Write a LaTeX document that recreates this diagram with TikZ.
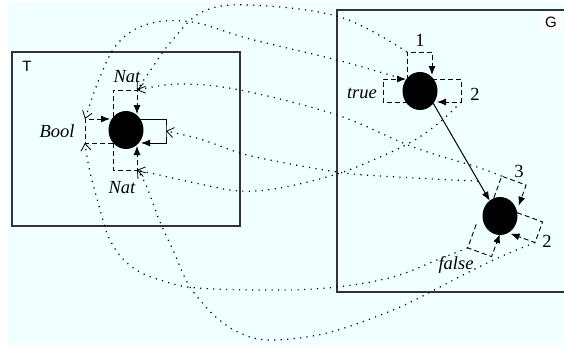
\documentclass[tikz,border=0pt]{standalone}
\usepackage{fontspec}
\setmainfont{Liberation Serif}
\newfontfamily\sansf{Liberation Sans}
\usetikzlibrary{arrows.meta,shapes.geometric}
\definecolor{bgc}{RGB}{240,255,255}
\tikzset{
  vtx/.style={ellipse,fill=black,minimum width=35pt,minimum height=38pt,inner sep=0pt,outer sep=0pt},
  extedge/.style={line width=0.9pt,dash pattern=on 5pt off 3pt,-{Latex[length=9pt,width=7pt]}},
  solidedge/.style={line width=1pt,-{Latex[length=9pt,width=7pt]}},
  mapto/.style={line width=1.2pt,dash pattern=on 1.2pt off 5.3pt,-{Straight Barb[length=7pt,width=10pt,line width=0.8pt]}},
  ilbl/.style={font=\fontsize{18.5}{20}\selectfont\itshape,inner sep=0pt,anchor=base},
  nlbl/.style={font=\fontsize{18.5}{20}\selectfont,inner sep=0pt,anchor=base},
  frame/.style={draw=black!80,line width=1.2pt},
  glbl/.style={font=\sansf\fontsize{15}{16}\selectfont,inner sep=0pt}
}
\begin{document}
\begin{tikzpicture}[x=1pt,y=-1pt]
\useasboundingbox (0,0) rectangle (564,345);
\fill[bgc] (8,2) rectangle (564,345);
% frames
\draw[frame] (12,52) rectangle (240,226);
\draw[frame] (575,10) -- (337,10) -- (337,292) -- (575,292);
\node[glbl] (tname) at (27,66) {T};
\node[glbl,fill=white,minimum width=22pt,minimum height=19pt] (gname) at (551,22.5) {G};
% nodes
\node[vtx] (tn) at (126,130) {};
\node[vtx] (gt) at (420,91) {};
\node[vtx] (gf) at (500,216) {};
% T edges
\draw[extedge] (113,125) -- (113,90) -- (137,90) coordinate (natTc) -- (137,114);
\draw[extedge] (113,135) -- (113,170) -- (137,170) coordinate (natBc) -- (137,146);
\draw[extedge] (113,143) -- (85,143) coordinate (boolBc) -- (85,119) coordinate (boolTc) -- (110,119);
\draw[solidedge] (140,119) -- (166,119) -- (166,131) coordinate (slp) -- (166,143) -- (141,143);
\node[ilbl] (natTl) at (127,82) {Nat};
\node[ilbl] (natBl) at (122,193) {Nat};
\node[ilbl] (booll) at (57,137) {Bool};
% G: true node edges
\draw[extedge] (407,80) -- (407,52) coordinate (oneC) -- (432,52) -- (432,75);
\draw[extedge] (408,102) -- (383,102) -- (383,79) -- (406,79);
\coordinate (trueS) at (400,78);
\draw[extedge] (432,79) -- (461,79) -- (461,102) coordinate (twoC) -- (437,102);
\node[nlbl] (onel) at (420,47) {1};
\node[ilbl] (truel) at (362,98) {true};
\node[nlbl] (twol) at (475,100) {2};
% solid edge
\draw[solidedge] (gt.-43) -- (gf.124) coordinate[pos=0.8] (edgeP);
% G: false node edges (rotated)
\begin{scope}[shift={(500,216)},rotate=-20]
\draw[extedge] (-12,-15) -- (-12,-38) coordinate (threeC) -- (14,-38) -- (14,-16);
\draw[extedge] (15,-9) -- (42,-9) -- (42,13) coordinate (twoFC) -- (16,13);
\draw[extedge] (-19.5,16) -- (-19.5,41) coordinate (falseC) -- (6,41) -- (6,17);
\end{scope}
\node[nlbl] (threel) at (519,177) {3};
\node[nlbl] (twofl) at (547,247) {2};
\node[ilbl] (falsel) at (456,269) {false};
% mapping arrows
\draw[mapto] plot[smooth,tension=0.6] coordinates {(oneC) (340,17) (250,5) (202,12) (170,43) (150,71) (natTc)};
\draw[mapto] plot[smooth,tension=0.6] coordinates {(trueS) (337,60) (250,39) (192,22) (148,24) (118,43) (100,77) (boolTc)};
\draw[mapto] plot[smooth,tension=0.6] coordinates {(threeC) (477,167) (413,147) (337,115) (240,90) (180,84) (natTc)};
\draw[mapto] plot[smooth,tension=0.6] coordinates {(edgeP) (380,176) (337,172) (280,162) (240,153) (200,139) (slp)};
\draw[mapto] plot[smooth,tension=0.6] coordinates {(twoC) (440,122) (413,141) (380,157) (337,174) (280,188) (240,191) (200,184) (natBc)};
\draw[mapto] plot[smooth,tension=0.6] coordinates {(falseC) (437,260) (393,277) (337,287) (280,290) (197,288) (160,280) (138,271) (122,258) (110,240) (103,220) (90,172) (boolBc)};
\draw[mapto] plot[smooth,tension=0.6] coordinates {(twoFC) (500,257) (467,273) (440,287) (393,310) (327,333) (270,340) (240,333) (217,318) (200,300) (187,282) (173,250) (160,222) (146,185) (natBc)};
\end{tikzpicture}
\end{document}
